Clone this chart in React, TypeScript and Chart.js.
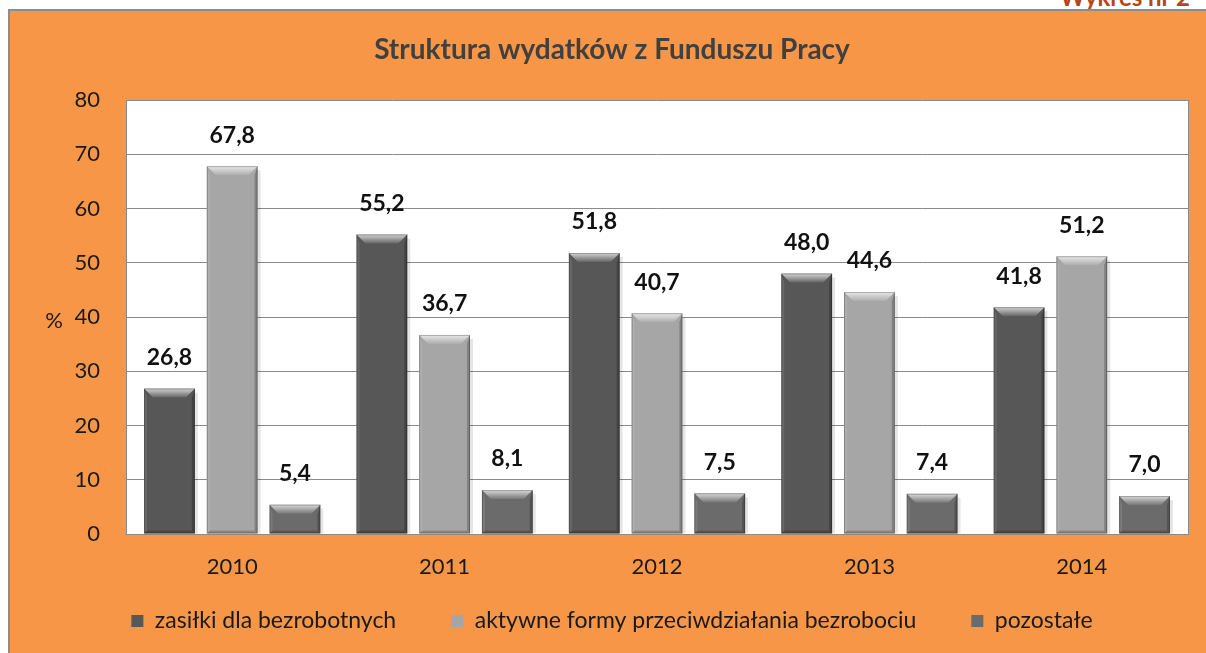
import { useEffect, useRef } from 'react';
import { Chart, registerables } from 'chart.js';

Chart.register(...registerables);

const years = ['2010', '2011', '2012', '2013', '2014'];
const zasilki = [26.8, 55.2, 51.8, 48.0, 41.8];
const aktywne = [67.8, 36.7, 40.7, 44.6, 51.2];
const pozostale = [5.4, 8.1, 7.5, 7.4, 7.0];
const seriesNames = [
  'zasiłki dla bezrobotnych',
  'aktywne formy przeciwdziałania bezrobociu',
  'pozostałe',
];
const chartTitle = 'Struktura wydatków z Funduszu Pracy';
const yAxisLabel = '%';
const cornerNote = 'Wykres nr 2';

const FONT = 'Lato, "Open Sans", sans-serif';
const LEGEND_FONT = 23;
const LEGEND_GAP = 55;
const LEGEND_TEXT_Y = 610;

const plotBgPlugin = {
  id: 'plotBg',
  afterLayout(chart: any) {
    const lg = chart.legend;
    if (lg) {
      lg.top = LEGEND_TEXT_Y - LEGEND_GAP - LEGEND_FONT / 2;
      lg.height = chart.height - lg.top;
      lg.bottom = chart.height;
    }
  },
  beforeDraw(chart: any) {
    const { ctx, chartArea } = chart;
    ctx.save();
    ctx.fillStyle = '#ffffff';
    ctx.fillRect(chartArea.left, chartArea.top, chartArea.right - chartArea.left, chartArea.bottom - chartArea.top);
    ctx.restore();
  },
  beforeDatasetsDraw(chart: any) {
    const { ctx, chartArea } = chart;
    ctx.save();
    ctx.strokeStyle = '#8a8a8a';
    ctx.lineWidth = 1;
    ctx.beginPath();
    ctx.moveTo(chartArea.right + 0.5, chartArea.top);
    ctx.lineTo(chartArea.right + 0.5, chartArea.bottom);
    ctx.stroke();
    chart.data.datasets.forEach((ds: any, di: number) => {
      const meta = chart.getDatasetMeta(di);
      meta.data.forEach((el: any) => {
        const { x, y, base, width } = el.getProps(['x', 'y', 'base', 'width'], true);
        const top = Math.min(y, base);
        const bottom = Math.max(y, base);
        const right = x + width / 2;
        ctx.fillStyle = 'rgba(0,0,0,0.10)';
        ctx.fillRect(right, top + 4, 3, bottom - top - 4);
      });
    });
    ctx.restore();
  },
};

const bevelPlugin = {
  id: 'bevel',
  afterDatasetsDraw(chart: any) {
    const { ctx } = chart;
    ctx.save();
    chart.data.datasets.forEach((ds: any, di: number) => {
      const meta = chart.getDatasetMeta(di);
      meta.data.forEach((el: any, i: number) => {
        const { x, y, base, width } = el.getProps(['x', 'y', 'base', 'width'], true);
        const left = x - width / 2;
        const right = x + width / 2;
        const top = Math.min(y, base);
        const bottom = Math.max(y, base);
        const h = bottom - top;
        const b = Math.min(9, h / 2.5);
        const s = 3;
        const g = ctx.createLinearGradient(0, top, 0, top + b);
        g.addColorStop(0, 'rgba(255,255,255,0.75)');
        g.addColorStop(1, 'rgba(255,255,255,0.08)');
        ctx.fillStyle = g;
        ctx.beginPath();
        ctx.moveTo(left, top);
        ctx.lineTo(right, top);
        ctx.lineTo(right - b, top + b);
        ctx.lineTo(left + b, top + b);
        ctx.closePath();
        ctx.fill();
        ctx.fillStyle = 'rgba(255,255,255,0.10)';
        ctx.beginPath();
        ctx.moveTo(left, top);
        ctx.lineTo(left + s, top + b);
        ctx.lineTo(left + s, bottom - s);
        ctx.lineTo(left, bottom);
        ctx.closePath();
        ctx.fill();
        ctx.fillStyle = 'rgba(0,0,0,0.22)';
        ctx.beginPath();
        ctx.moveTo(right, top);
        ctx.lineTo(right - s, top + b);
        ctx.lineTo(right - s, bottom - s);
        ctx.lineTo(right, bottom);
        ctx.closePath();
        ctx.fill();
        ctx.fillStyle = 'rgba(0,0,0,0.18)';
        ctx.beginPath();
        ctx.moveTo(left, bottom);
        ctx.lineTo(right, bottom);
        ctx.lineTo(right - s, bottom - s);
        ctx.lineTo(left + s, bottom - s);
        ctx.closePath();
        ctx.fill();
        ctx.strokeStyle = 'rgba(0,0,0,0.25)';
        ctx.lineWidth = 1;
        ctx.strokeRect(left + 0.5, top + 0.5, width - 1, h - 1);
        const v = ds.data[i] as number;
        ctx.fillStyle = '#111111';
        ctx.font = `bold 23px ${FONT}`;
        ctx.textAlign = 'center';
        ctx.textBaseline = 'middle';
        ctx.fillText(v.toFixed(1).replace('.', ','), x, top - 31);
      });
    });
    ctx.restore();
  },
};

const yLabelPlugin = {
  id: 'yLabel',
  afterDraw(chart: any) {
    const { ctx, scales } = chart;
    const yMid = scales.y.getPixelForValue(39.3);
    ctx.save();
    ctx.fillStyle = '#1a1a1a';
    ctx.font = `22px ${FONT}`;
    ctx.textAlign = 'center';
    ctx.textBaseline = 'middle';
    ctx.fillText(yAxisLabel, 44, yMid);
    ctx.restore();
  },
};

export default function App() {
  const canvasRef = useRef<HTMLCanvasElement | null>(null);

  useEffect(() => {
    const canvas = canvasRef.current;
    if (!canvas) return;
    const chart = new Chart(canvas, {
      type: 'bar',
      data: {
        labels: years,
        datasets: [
          { label: seriesNames[0], data: zasilki, backgroundColor: '#575757', borderWidth: 0 },
          { label: seriesNames[1], data: aktywne, backgroundColor: '#a6a6a6', borderWidth: 0 },
          { label: seriesNames[2], data: pozostale, backgroundColor: '#6b6b6b', borderWidth: 0 },
        ],
      },
      options: {
        animation: false,
        responsive: true,
        maintainAspectRatio: false,
        layout: { padding: { left: 26, right: 18, top: 0, bottom: 12.6 } },
        datasets: { bar: { categoryPercentage: 0.886, barPercentage: 0.81 } },
        plugins: {
          title: {
            display: true,
            text: chartTitle,
            color: '#404040',
            font: { family: FONT, size: 28, weight: 'bold' },
            padding: { top: 22.2, bottom: 33.2 },
          },
          legend: {
            display: true,
            position: 'bottom',
            maxHeight: 60,
            labels: {
              color: '#1a1a1a',
              font: { family: FONT, size: LEGEND_FONT },
              boxWidth: 12,
              boxHeight: 12,
              padding: LEGEND_GAP,
            },
          },
          tooltip: { enabled: false },
        },
        scales: {
          x: {
            grid: { display: false, drawTicks: false },
            border: { display: true, color: '#8a8a8a' },
            ticks: { color: '#1a1a1a', font: { family: FONT, size: 22 }, padding: 20 },
            afterFit: (scale: any) => { scale.height = 46.4; },
          },
          y: {
            min: 0,
            max: 80,
            grid: { color: '#8a8a8a', lineWidth: 1, drawTicks: false },
            border: { display: true, color: '#8a8a8a' },
            ticks: { stepSize: 10, color: '#1a1a1a', font: { family: FONT, size: 22 }, padding: 26 },
            afterFit: (scale: any) => { scale.width = 90; },
          },
        },
      } as any,
      plugins: [plotBgPlugin, bevelPlugin, yLabelPlugin],
    });
    return () => chart.destroy();
  }, []);

  return (
    <div style={{ position: 'absolute', left: 0, top: 0, width: 1206, height: 653, overflow: 'hidden', background: '#ffffff' }}>
      <div
        style={{
          position: 'absolute',
          left: 1060,
          top: -15,
          whiteSpace: 'nowrap',
          font: `bold 24px ${FONT}`,
          lineHeight: '24px',
          color: '#b4451c',
        }}
      >
        {cornerNote}
      </div>
      <div
        style={{
          position: 'absolute',
          left: 8,
          top: 9,
          width: 1198,
          height: 644,
          boxSizing: 'border-box',
          borderTop: '2px solid #8c8c8c',
          borderLeft: '2px solid #8c8c8c',
          background: '#f79646',
        }}
      >
        <div style={{ position: 'relative', width: 1196, height: 642 }}>
          <canvas ref={canvasRef} />
        </div>
      </div>
    </div>
  );
}
